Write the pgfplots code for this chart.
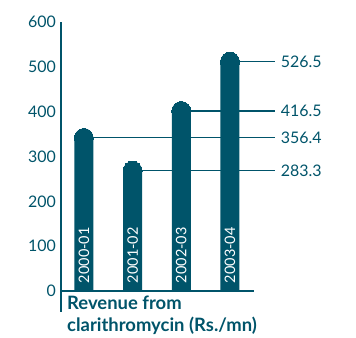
\documentclass[border=0pt]{standalone}
\usepackage{fontspec}
\setmainfont{Lato}
\usepackage{pgfplots}
\usepackage{pgfplotstable}
\pgfplotsset{compat=1.18}
\definecolor{tl}{HTML}{00546A}
\pgfplotstableread{
x v lab
0 356.4 2000-01
1 283.3 2001-02
2 416.5 2002-03
3 526.5 2003-04
}\data
\begin{document}
\begin{tikzpicture}
\useasboundingbox (-61bp,-47bp) rectangle (295bp,291bp);
\begin{axis}[at={(0,0)}, anchor=south west, scale only axis,
  width=193bp, height=269bp,
  xmin=-0.47, xmax=3.493, ymin=0, ymax=600,
  axis x line=bottom, axis y line=left,
  axis line style={-, draw=tl, line width=1.4bp},
  xtick=\empty, ytick={0,100,...,600}, major tick length=0pt,
  yticklabel style={font=\fontsize{16}{18}\selectfont, text=tl, inner sep=0pt, xshift=-5bp},
  /pgf/number format/assume math mode=true,
  clip=false]
% value lines (behind bars)
\addplot[draw=none, mark=none, forget plot,
  error bars/.cd, x dir=plus, x explicit,
  error bar style={line width=1.1bp, color=tl}, error mark=none]
  table[x=x, y expr=\thisrow{v}-15, x error expr=3.92-\thisrow{x}] {\data};
% bars
\addplot[ybar, bar width=19bp, bar shift=0pt, fill=tl, draw=none]
  table[x=x, y expr=\thisrow{v}-15] {\data};
% rounded caps
\addplot[only marks, color=tl, mark=*, mark size=9.5bp, mark options={fill=tl, draw=tl, line width=0pt}]
  table[x=x, y expr=\thisrow{v}-15] {\data};
% labels inside bars
\addplot[draw=none, mark=none, point meta=explicit symbolic,
  nodes near coords,
  every node near coord/.append style={rotate=90, anchor=west, inner ysep=0pt, inner xsep=8bp, text=white, font=\fontsize{14.5}{16}\selectfont, outer sep=0pt}]
  table[x=x, y expr=0, meta=lab] {\data};
% value labels
\addplot[draw=none, mark=none, point meta=explicit symbolic,
  nodes near coords,
  every node near coord/.append style={anchor=west, inner sep=0pt, xshift=6bp, text=tl, font=\fontsize{16}{18}\selectfont}]
  table[x expr=3.92, y expr=\thisrow{v}-15, meta=v] {\data};
\end{axis}
\draw[tl, line width=1.4bp] (0,0) -- (0,-21bp);
\node[anchor=north west, align=left, inner sep=0pt, text=tl,
  font=\fontsize{18.5}{21.5}\selectfont\bfseries] at (6bp,-5bp)
  {Revenue from\\clarithromycin (Rs./mn)};
\end{tikzpicture}
\end{document}
